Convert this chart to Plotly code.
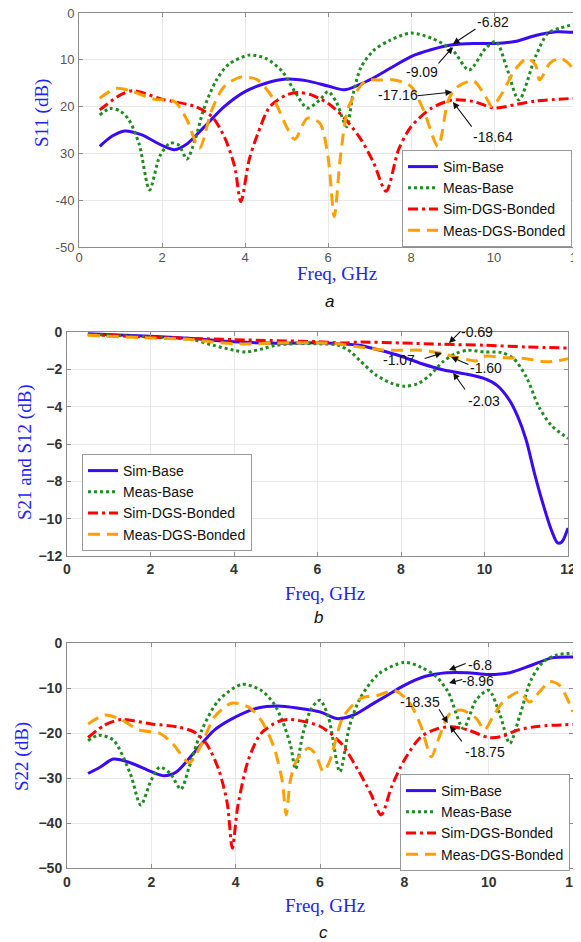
import plotly.graph_objects as go

# ---------------- Panel a : S11 ----------------
fa_sim_base = [0.5, 0.8, 1.1, 1.5, 2.0, 2.3, 2.6, 3.0, 3.5, 4.0, 4.5, 5.0, 5.5, 6.0, 6.4, 7.0, 7.5, 8.0, 8.5, 9.0, 9.5, 10.0, 10.5, 11.0, 11.5, 12.0]
s11_sim_base = [-28.5, -26.3, -25.2, -26.0, -28.3, -29.2, -28.0, -24.5, -20.0, -16.8, -15.0, -14.1, -14.5, -15.6, -16.4, -14.3, -11.8, -9.3, -7.8, -6.8, -6.5, -6.5, -6.1, -4.8, -4.0, -4.2]

fa_meas_base = [0.5, 0.75, 1.0, 1.2, 1.45, 1.7, 1.95, 2.2, 2.4, 2.6, 2.8, 3.0, 3.3, 3.6, 4.1, 4.5, 4.9, 5.2, 5.5, 5.8, 6.0, 6.2, 6.45, 6.6, 6.8, 7.1, 7.5, 8.0, 8.5, 9.0, 9.4, 9.8, 10.05, 10.3, 10.6, 11.0, 11.3, 11.6, 12.0]
s11_meas_base = [-21.8, -20.4, -21.0, -22.8, -28.0, -37.8, -30.5, -27.8, -28.2, -31.2, -27.0, -20.7, -14.5, -11.0, -9.0, -9.7, -12.5, -16.8, -20.3, -18.6, -16.8, -19.0, -24.3, -17.5, -11.5, -8.0, -5.8, -4.3, -5.4, -7.9, -12.2, -7.5, -6.1, -11.5, -18.6, -9.3, -4.3, -3.2, -2.3]

fa_sim_dgs = [0.5, 1.0, 1.3, 2.0, 2.8, 3.2, 3.5, 3.75, 3.9, 4.1, 4.3, 4.6, 5.0, 5.3, 5.6, 6.0, 6.4, 6.8, 7.1, 7.4, 7.7, 8.0, 8.5, 9.0, 9.5, 10.0, 10.5, 11.0, 12.0]
s11_sim_dgs = [-20.7, -17.5, -16.6, -18.4, -20.0, -22.1, -26.4, -32.8, -40.3, -31.4, -26.0, -20.0, -17.5, -17.0, -17.5, -19.3, -22.5, -27.1, -32.0, -38.1, -29.2, -24.3, -20.3, -18.6, -18.9, -20.3, -19.6, -18.8, -18.2]

fa_meas_dgs = [0.5, 0.9, 1.3, 1.8, 2.3, 2.6, 2.9, 3.2, 3.5, 3.9, 4.3, 4.7, 5.0, 5.2, 5.5, 5.8, 6.0, 6.15, 6.3, 6.5, 6.9, 7.3, 7.6, 8.0, 8.3, 8.65, 8.9, 9.1, 9.5, 9.8, 9.95, 10.2, 10.5, 10.8, 11.0, 11.1, 11.35, 11.6, 11.8, 12.0]
s11_meas_dgs = [-18.2, -16.1, -16.8, -18.4, -18.9, -22.8, -28.9, -20.7, -15.7, -13.7, -14.3, -18.6, -24.3, -27.0, -22.5, -23.5, -30.7, -43.5, -30.7, -20.0, -14.6, -14.3, -14.3, -15.7, -20.7, -28.5, -18.6, -15.9, -14.5, -17.9, -20.0, -17.1, -12.2, -9.7, -11.1, -14.3, -10.7, -9.7, -10.8, -13.6]

# ---------------- Panel b : S21 / S12 ----------------
fb_sim_base = [0.5, 2.0, 3.0, 4.0, 5.0, 6.0, 6.5, 7.0, 7.5, 8.0, 8.5, 9.0, 9.5, 10.0, 10.3, 10.6, 10.8, 11.0, 11.2, 11.4, 11.6, 11.75, 11.85, 12.0]
s21_sim_base = [-0.09, -0.23, -0.35, -0.52, -0.6, -0.58, -0.63, -0.71, -0.98, -1.3, -1.7, -2.02, -2.23, -2.5, -2.86, -3.66, -4.55, -5.8, -7.6, -9.2, -10.6, -11.3, -11.25, -10.5]

fb_meas_base = [0.5, 2.0, 3.0, 3.5, 4.0, 4.3, 4.7, 5.0, 5.5, 6.0, 6.5, 6.8, 7.0, 7.4, 7.8, 8.1, 8.4, 8.7, 9.0, 9.3, 9.6, 10.0, 10.4, 10.7, 11.0, 11.3, 11.6, 12.0]
s21_meas_base = [-0.12, -0.27, -0.41, -0.71, -0.98, -1.07, -0.89, -0.71, -0.62, -0.63, -0.71, -1.07, -1.5, -2.3, -2.77, -2.9, -2.77, -2.3, -1.6, -1.16, -0.98, -1.07, -1.1, -1.43, -2.4, -4.0, -5.0, -5.7]

fb_sim_dgs = [0.5, 2.0, 4.0, 6.0, 6.6, 7.0, 8.0, 9.0, 10.0, 11.0, 12.0]
s21_sim_dgs = [-0.14, -0.27, -0.41, -0.52, -0.59, -0.54, -0.59, -0.66, -0.71, -0.8, -0.86]

fb_meas_dgs = [0.5, 2.0, 3.0, 3.5, 4.0, 4.5, 5.0, 6.0, 6.5, 7.0, 7.5, 8.0, 8.5, 9.0, 9.3, 9.6, 9.8, 10.0, 10.5, 11.0, 11.5, 12.0]
s21_meas_dgs = [-0.18, -0.32, -0.41, -0.54, -0.63, -0.63, -0.59, -0.57, -0.63, -0.8, -0.95, -0.98, -0.98, -1.16, -1.34, -1.48, -1.55, -1.3, -1.38, -1.43, -1.6, -1.43]

# ---------------- Panel c : S22 ----------------
fc_sim_base = [0.5, 0.8, 1.1, 1.5, 2.0, 2.3, 2.6, 3.0, 3.5, 4.0, 4.5, 5.0, 5.5, 6.0, 6.4, 6.8, 7.2, 7.6, 8.0, 8.5, 9.0, 9.5, 10.0, 10.5, 11.0, 11.5, 12.0]
s22_sim_base = [-29.0, -27.5, -25.8, -26.6, -28.6, -29.5, -28.6, -24.5, -19.3, -16.4, -14.5, -14.0, -14.5, -15.3, -16.8, -16.0, -13.8, -11.6, -9.4, -7.4, -6.6, -6.6, -7.0, -6.6, -5.0, -3.3, -3.1]

fc_meas_base = [0.5, 0.75, 1.1, 1.5, 1.75, 2.0, 2.2, 2.45, 2.7, 2.9, 3.2, 3.6, 4.15, 4.6, 4.9, 5.1, 5.3, 5.42, 5.6, 5.8, 6.0, 6.2, 6.47, 6.7, 6.95, 7.4, 8.0, 8.4, 8.76, 9.04, 9.4, 9.7, 10.0, 10.26, 10.5, 10.73, 11.0, 11.29, 11.6, 12.0]
s22_meas_base = [-21.7, -20.5, -21.6, -29.0, -36.0, -30.4, -27.6, -29.0, -32.5, -27.5, -19.3, -12.7, -9.2, -10.5, -13.4, -17.1, -22.7, -28.0, -20.0, -14.5, -12.7, -16.5, -28.6, -18.5, -12.3, -6.8, -4.3, -5.4, -7.5, -10.9, -19.0, -12.7, -10.5, -15.7, -22.3, -16.4, -8.3, -4.2, -2.7, -2.2]

fc_sim_dgs = [0.5, 0.9, 1.3, 2.0, 2.6, 3.0, 3.3, 3.6, 3.8, 3.92, 4.05, 4.3, 4.6, 5.0, 5.3, 6.0, 6.5, 6.9, 7.2, 7.45, 7.7, 8.0, 8.4, 8.8, 9.1, 9.5, 10.0, 10.3, 10.7, 11.2, 12.0]
s22_sim_dgs = [-21.0, -18.2, -17.0, -18.0, -18.6, -19.7, -22.3, -28.2, -35.6, -45.6, -36.3, -26.0, -20.1, -17.5, -17.0, -18.5, -22.3, -28.2, -33.4, -38.2, -31.9, -26.0, -20.8, -19.0, -18.6, -19.3, -21.0, -20.8, -19.3, -18.5, -18.1]

fc_meas_dgs = [0.5, 0.9, 1.3, 1.7, 2.2, 2.5, 2.9, 3.2, 3.5, 3.9, 4.3, 4.6, 4.9, 5.1, 5.2, 5.3, 5.45, 5.72, 5.88, 6.08, 6.24, 6.55, 6.99, 7.38, 7.78, 8.13, 8.4, 8.64, 8.8, 9.08, 9.35, 9.71, 9.9, 10.1, 10.34, 10.73, 10.97, 11.2, 11.45, 11.68, 12.0]
s22_meas_dgs = [-18.0, -16.0, -17.1, -19.3, -20.1, -22.3, -26.6, -22.3, -16.4, -13.4, -14.2, -17.1, -23.0, -30.4, -38.2, -30.4, -26.0, -23.4, -24.5, -28.6, -26.0, -16.4, -12.2, -11.6, -10.6, -13.4, -18.6, -25.3, -21.6, -15.7, -14.9, -16.8, -19.3, -16.4, -13.1, -10.9, -13.1, -10.9, -8.6, -9.4, -15.3]

series_names = ["Sim-Base", "Meas-Base", "Sim-DGS-Bonded", "Meas-DGS-Bonded"]
x_ticks = [0, 2, 4, 6, 8, 10, 12]
ya_ticks = [0, -10, -20, -30, -40, -50]
ya_ticklabels = ["0", "10", "20", "30", "-40", "-50"]
yb_ticks = [0, -2, -4, -6, -8, -10, -12]
yc_ticks = [0, -10, -20, -30, -40, -50]

# annotation values  (label, head_x, head_y, tail_x, tail_y, text_x, text_y)
ann_a = [("-6.82", 9.01, -6.6, 9.59, -3.2, 9.98, -1.9),
         ("-9.09", 9.01, -7.3, 8.63, -11.1, 8.27, -12.6),
         ("-17.16", 8.99, -16.9, 8.12, -17.7, 7.69, -17.5),
         ("-18.64", 9.01, -19.0, 9.49, -24.6, 9.98, -26.5)]
ann_b = [("-0.69", 9.15, -0.59, 9.46, 0.11, 9.82, 0.54),
         ("-1.07", 8.98, -1.13, 8.53, -1.45, 7.95, -1.5),
         ("-1.60", 9.2, -1.34, 9.65, -1.77, 10.04, -1.93),
         ("-2.03", 9.25, -2.19, 9.56, -3.16, 9.99, -3.7)]
ann_c = [("-6.8", 9.06, -6.0, 9.49, -4.4, 9.79, -4.9),
         ("-8.96", 9.06, -8.9, 9.41, -8.0, 9.75, -8.4),
         ("-18.35", 9.03, -17.8, 8.8, -14.4, 8.37, -13.1),
         ("-18.75", 9.08, -18.4, 9.39, -22.2, 9.91, -24.2)]

# The page body adds an 8 px margin, so the figure is drawn 8 px smaller and
# reference pixel positions are shifted by that offset.
PAGE_W, PAGE_H, OFF = 581, 942, 8
W, H = PAGE_W - OFF, PAGE_H - OFF
def px(x):
    return (x - OFF) / W
def py(y):
    return 1 - (y - OFF) / H

colors = ["#3a0af5", "#1e8c1e", "#ff0000", "#ffa000"]
dashes = ["solid", "3px,3px", "10px,4px,3px,4px", "12px,7px"]
widths = [3, 3, 3, 3]

SANS = "Liberation Sans, Arial, sans-serif"
SERIF = "Liberation Serif, Times New Roman, serif"
TITLE_BLUE = "#2222ff"

# axis frames (reference pixel boxes) per panel: left, right, bottom, top
frames = {"a": (79, 577, 247, 13), "b": (67, 568, 556, 332), "c": (67, 573, 868, 643)}

fig = go.Figure()

panels = [
    ("x", "y", "legend", [(fa_sim_base, s11_sim_base), (fa_meas_base, s11_meas_base), (fa_sim_dgs, s11_sim_dgs), (fa_meas_dgs, s11_meas_dgs)]),
    ("x2", "y2", "legend2", [(fb_sim_base, s21_sim_base), (fb_meas_base, s21_meas_base), (fb_sim_dgs, s21_sim_dgs), (fb_meas_dgs, s21_meas_dgs)]),
    ("x3", "y3", "legend3", [(fc_sim_base, s22_sim_base), (fc_meas_base, s22_meas_base), (fc_sim_dgs, s22_sim_dgs), (fc_meas_dgs, s22_meas_dgs)]),
]
for xa, ya, lg, data in panels:
    for i, (xs, ys) in enumerate(data):
        fig.add_trace(go.Scatter(
            x=xs, y=ys, mode="lines", name=series_names[i], xaxis=xa, yaxis=ya, legend=lg,
            line=dict(color=colors[i], width=widths[i], dash=dashes[i], shape="spline", smoothing=0.8),
            showlegend=True))

def tfont(bold):
    return dict(family=SANS, size=14 if bold else 13, color="#333333" if bold else "#555555",
                weight=700 if bold else 400)

def xax(domain, anchor, bold, standoff):
    return dict(domain=domain, anchor=anchor, range=[0, 12], tickvals=x_ticks, automargin=False,
                showgrid=True, gridcolor="#e8e8e8", gridwidth=1, zeroline=False,
                showline=True, linecolor="#8c8c8c", linewidth=1, mirror="ticks",
                ticks="inside", ticklen=4, tickcolor="#8c8c8c", ticklabeloverflow="allow",
                tickfont=tfont(bold), ticklabelstandoff=standoff)

def yax(domain, anchor, rng, tv, tt, bold):
    d = dict(domain=domain, anchor=anchor, range=rng, tickvals=tv, automargin=False,
             showgrid=True, gridcolor="#e8e8e8", gridwidth=1, zeroline=False,
             showline=True, linecolor="#8c8c8c", linewidth=1, mirror="ticks",
             ticks="inside", ticklen=4, tickcolor="#8c8c8c", ticklabeloverflow="allow",
             tickfont=tfont(bold), ticklabelstandoff=1)
    if tt is not None:
        d["ticktext"] = tt
    return d

legend_common = dict(font=dict(family=SANS, size=14, color="#111111"), bgcolor="white",
                     bordercolor="#9a9a9a", borderwidth=1, xanchor="left", yanchor="top",
                     tracegroupgap=0, itemwidth=30)

fa, fb, fc = frames["a"], frames["b"], frames["c"]
fig.update_layout(
    width=W, height=H, autosize=False,
    margin=dict(l=0, r=0, t=0, b=0, autoexpand=False),
    paper_bgcolor="white", plot_bgcolor="white",
    xaxis=xax([px(fa[0]), px(fa[1])], "y", False, -2),
    yaxis=yax([py(fa[2]), py(fa[3])], "x", [-50, 0], ya_ticks, ya_ticklabels, False),
    xaxis2=xax([px(fb[0]), px(fb[1])], "y2", True, 0),
    yaxis2=yax([py(fb[2]), py(fb[3])], "x2", [-12, 0], yb_ticks, None, True),
    xaxis3=xax([px(fc[0]), px(fc[1])], "y3", True, 1),
    yaxis3=yax([py(fc[2]), py(fc[3])], "x3", [-50, 0], yc_ticks, None, True),
    legend=dict(x=px(402), y=py(150), **legend_common),
    legend2=dict(x=px(82), y=py(454), **legend_common),
    legend3=dict(x=px(400), y=py(774), **legend_common),
)

annotations = []
for anns, xr, yr in [(ann_a, "x", "y"), (ann_b, "x2", "y2"), (ann_c, "x3", "y3")]:
    for lab, hx, hy, tx, ty, lx, ly in anns:
        annotations.append(dict(x=hx, y=hy, ax=tx, ay=ty, xref=xr, yref=yr, axref=xr, ayref=yr,
                                text="", showarrow=True, arrowhead=2, arrowsize=1.2, arrowwidth=1.1,
                                arrowcolor="#111111", standoff=0, startstandoff=0))
        if ly > 0:
            # label sits above the frame: place it through the axis domain reference
            annotations.append(dict(x=lx, y=1 + ly / 12.0, xref=xr, yref=yr + " domain", text=lab,
                                    showarrow=False, font=dict(family=SANS, size=14, color="#111111")))
        else:
            annotations.append(dict(x=lx, y=ly, xref=xr, yref=yr, text=lab, showarrow=False,
                                    font=dict(family=SANS, size=14, color="#111111")))

# axis titles and captions (reference pixel centres)
titles = [
    ("S11 (dB)", 42, 113, -90, SERIF, 19, TITLE_BLUE, False),
    ("Freq, GHz", 337, 274, 0, SERIF, 19, TITLE_BLUE, False),
    ("a", 329, 302, 0, SANS, 17, "#111111", True),
    ("S21 and S12 (dB)", 25, 452, -90, SERIF, 19, TITLE_BLUE, False),
    ("Freq, GHz", 325, 593, 0, SERIF, 19, TITLE_BLUE, False),
    ("b", 318, 617, 0, SANS, 17, "#111111", True),
    ("S22 (dB)", 22, 757, -90, SERIF, 19, TITLE_BLUE, False),
    ("Freq, GHz", 325, 905, 0, SERIF, 19, TITLE_BLUE, False),
    ("c", 323, 932, 0, SANS, 17, "#111111", True),
]
for t, x, y, ang, fam, sz, col, it in titles:
    annotations.append(dict(x=px(x), y=py(y), xref="paper", yref="paper", text=t, showarrow=False,
                            textangle=ang, xanchor="center", yanchor="middle",
                            font=dict(family=fam, size=sz, color=col, style="italic" if it else "normal")))

fig.update_layout(annotations=annotations)

fig.write_html("out.html")
